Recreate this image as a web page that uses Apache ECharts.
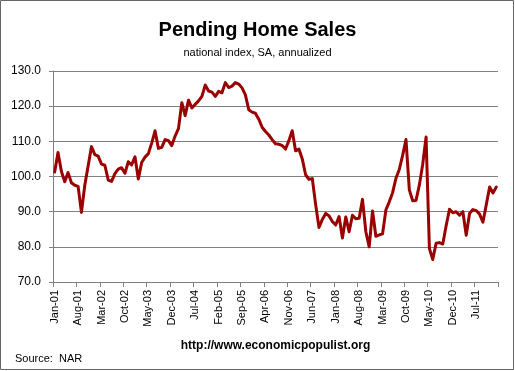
<!DOCTYPE html>
<html>
<head>
<meta charset="utf-8">
<script src="https://cdn.jsdelivr.net/npm/echarts@6/dist/echarts.min.js"></script>
<style>
html,body{margin:0;padding:0;background:#fff;}
#chart{width:515px;height:371px;}
</style>
</head>
<body>
<div id="chart"></div>
<script>
// Month labels (Jan-01 .. Jan-12)
const monthNames = ['Jan','Feb','Mar','Apr','May','Jun','Jul','Aug','Sep','Oct','Nov','Dec'];
const firstYear = 2001;
const monthCount = 133;

// Pending Home Sales index values, by year
const v2001 = [101.3, 106.8, 101.5, 98.5, 101.1, 98.2, 97.5, 97.2, 89.8, 97.5, 103.0, 108.5];
const v2002 = [106.2, 105.8, 103.5, 103.2, 99.0, 98.6, 100.8, 102.1, 102.5, 100.9, 104.2, 103.3];
const v2003 = [105.6, 99.3, 104.0, 105.5, 106.5, 109.5, 113.0, 108.0, 108.3, 110.5, 110.2, 108.8];
const v2004 = [111.5, 113.6, 121.0, 117.3, 121.7, 119.5, 120.5, 121.5, 122.8, 126.0, 124.3, 124.0];
const v2005 = [122.8, 124.2, 123.8, 126.7, 125.3, 125.7, 126.7, 126.3, 125.2, 123.2, 119.0, 118.3];
const v2006 = [118.0, 116.3, 114.0, 112.8, 111.8, 110.5, 109.3, 109.2, 108.8, 107.8, 110.2, 113.0];
const v2007 = [107.3, 107.8, 105.0, 100.5, 99.2, 99.4, 92.0, 85.5, 87.8, 89.5, 88.8, 87.2];
const v2008 = [86.2, 88.6, 82.5, 88.5, 84.3, 89.0, 88.0, 88.1, 93.5, 84.3, 80.0, 90.2];
const v2009 = [83.0, 83.4, 83.7, 90.5, 92.8, 95.4, 99.5, 102.0, 106.0, 110.5, 96.2, 93.1];
const v2010 = [93.2, 97.6, 103.5, 111.2, 79.5, 76.4, 81.0, 81.2, 80.8, 86.0, 90.7, 89.7];
const v2011 = [90.0, 89.0, 90.0, 83.3, 89.5, 90.6, 90.3, 89.3, 87.0, 92.0, 97.0, 95.3];
const v2012 = [97.0];

const yTicks = [70, 80, 90, 100, 110, 120, 130];

const categories = [];
for (let i = 0; i < monthCount; i++) {
  const m = monthNames[i % 12];
  const y = String((firstYear + Math.floor(i / 12)) % 100).padStart(2, '0');
  categories.push(m + '-' + y);
}
const values = [].concat(v2001, v2002, v2003, v2004, v2005, v2006, v2007, v2008, v2009, v2010, v2011, v2012);

const chart = echarts.init(document.getElementById('chart'), null, {renderer: 'canvas'});
const gridColor = '#808080';
const font = 'Liberation Sans, Arial, sans-serif';
chart.setOption({
  animation: false,
  backgroundColor: '#fff',
  title: [
    {text: 'Pending Home Sales', left: 'center', top: 15,
     textStyle: {fontFamily: font, fontWeight: 'bold', fontSize: 20, color: '#000'}},
    {text: 'national index, SA, annualized', left: 'center', top: 42,
     textStyle: {fontFamily: font, fontWeight: 'normal', fontSize: 11, color: '#000'}}
  ],
  graphic: [
    {type: 'rect', shape: {x: 0.5, y: 0.5, width: 513, height: 369},
     style: {fill: 'none', stroke: '#666', lineWidth: 1}, silent: true},
    {type: 'text', x: 275.5, y: 346,
     style: {text: 'http://www.economicpopulist.org', font: 'bold 12px Liberation Sans, Arial, sans-serif',
             fill: '#000', align: 'center', verticalAlign: 'middle'}},
    {type: 'text', x: 15, y: 359,
     style: {text: 'Source:  NAR', font: '11px Liberation Sans, Arial, sans-serif',
             fill: '#000', align: 'left', verticalAlign: 'middle'}}
  ],
  grid: {left: 53, right: 17, top: 71, bottom: 89, containLabel: false},
  xAxis: {
    type: 'category',
    data: categories,
    boundaryGap: true,
    axisLine: {show: true, lineStyle: {color: gridColor, width: 1}},
    axisTick: {show: true, interval: 6, length: 5, lineStyle: {color: gridColor}},
    axisLabel: {interval: 6, rotate: 90, margin: 8, fontFamily: font, fontSize: 11, color: '#000'},
    splitLine: {show: false}
  },
  yAxis: {
    type: 'value',
    min: yTicks[0],
    max: yTicks[yTicks.length - 1],
    interval: 10,
    axisLine: {show: true, lineStyle: {color: gridColor, width: 1}},
    axisTick: {show: true, length: 4, lineStyle: {color: gridColor}},
    axisLabel: {margin: 12, fontFamily: font, fontSize: 12, color: '#000',
                formatter: function (v) { return v.toFixed(1); }},
    splitLine: {show: true, lineStyle: {color: gridColor, width: 1}}
  },
  series: [{
    type: 'line',
    data: values,
    symbol: 'none',
    lineStyle: {color: '#9b0000', width: 3, join: 'round', cap: 'round'},
    z: 5
  }]
});
</script>
</body>
</html>
